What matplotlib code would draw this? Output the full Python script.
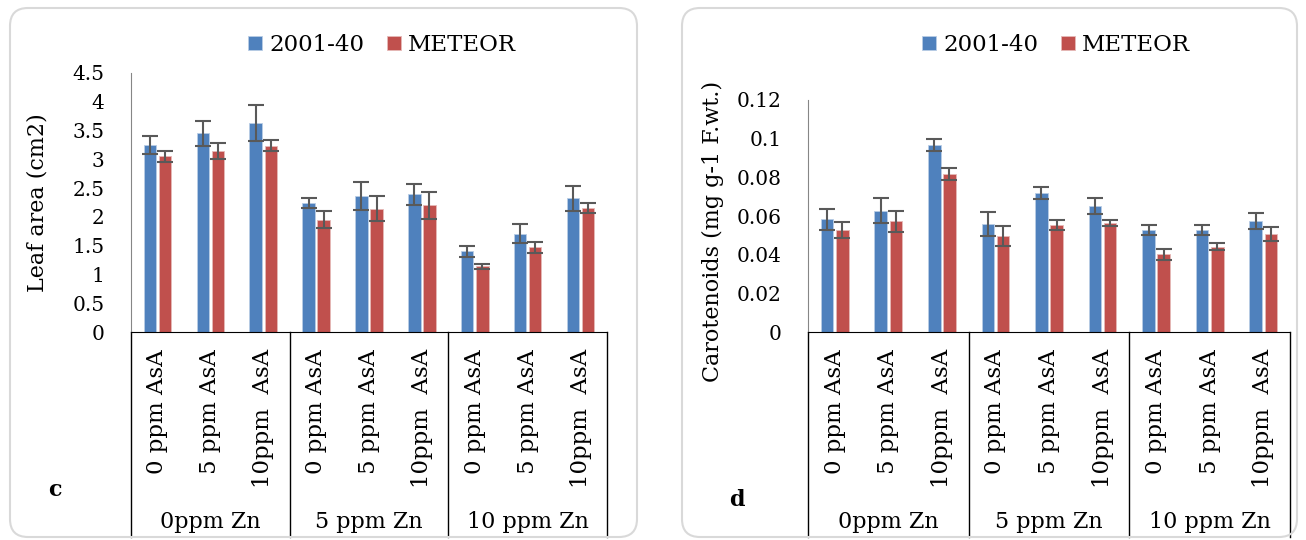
import numpy as np
import matplotlib
matplotlib.use('Agg')
import matplotlib.pyplot as plt
from matplotlib.patches import FancyBboxPatch
from matplotlib.transforms import IdentityTransform, blended_transform_factory

# data
groups = ['0ppm Zn', '5 ppm Zn', '10 ppm Zn']
asa_labels = ['0 ppm AsA', '5 ppm AsA', '10ppm  AsA'] * 3
series_names = ['2001-40', 'METEOR']

leaf_2001 = [3.25, 3.45, 3.63, 2.24, 2.36, 2.39, 1.40, 1.71, 2.32]
leaf_2001_err = [0.16, 0.22, 0.32, 0.08, 0.24, 0.19, 0.10, 0.17, 0.22]
leaf_meteor = [3.05, 3.15, 3.24, 1.95, 2.14, 2.20, 1.14, 1.47, 2.16]
leaf_meteor_err = [0.10, 0.14, 0.10, 0.15, 0.22, 0.23, 0.05, 0.09, 0.09]

car_2001 = [0.0582, 0.0627, 0.0967, 0.0558, 0.0720, 0.0651, 0.0528, 0.0528, 0.0575]
car_2001_err = [0.0054, 0.0064, 0.0033, 0.0062, 0.0030, 0.0040, 0.0028, 0.0028, 0.0040]
car_meteor = [0.0528, 0.0572, 0.0817, 0.0497, 0.0553, 0.0565, 0.0401, 0.0442, 0.0508]
car_meteor_err = [0.0040, 0.0055, 0.0030, 0.0050, 0.0026, 0.0015, 0.0026, 0.0020, 0.0036]

BLUE = '#4F81BD'
RED = '#C0504D'
W, H = 1306, 540

plt.rcParams['font.family'] = 'DejaVu Serif'

fig = plt.figure(figsize=(W / 100, H / 100), dpi=100)

# rounded panel frames (pixel coords)
for x0, w in [(10, 627), (682, 615)]:
    fig.add_artist(FancyBboxPatch((x0, 3), w, 529, boxstyle='round,pad=0,rounding_size=18',
                                  transform=IdentityTransform(), facecolor='none',
                                  edgecolor='#D9D9D9', linewidth=1.5))


def draw_panel(rect, s1, e1, s2, e2, ymax, step, ylabel, ylab_xy, letter, letter_xy, leg_x):
    ax = fig.add_axes(rect)
    x = np.arange(len(s1))
    ekw = dict(ecolor='#595959', elinewidth=1.5, capsize=5.5, capthick=1.5)
    ax.bar(x - 0.142, s1, 0.235, color=BLUE, edgecolor='#B9CDE5', linewidth=0.6,
           yerr=e1, error_kw=ekw, label=series_names[0])
    ax.bar(x + 0.142, s2, 0.235, color=RED, edgecolor='#E6B9B8', linewidth=0.6,
           yerr=e2, error_kw=ekw, label=series_names[1])
    ax.set_xlim(-0.5, len(s1) - 0.5)
    ax.set_ylim(0, ymax)
    ticks = np.round(np.arange(0, ymax + step / 2, step), 4)
    ax.set_yticks(ticks)
    ax.set_yticklabels([f'{t:g}' for t in ticks])
    ax.set_xticks([])
    ax.tick_params(axis='y', length=0, pad=19, labelsize=14.5)
    for s in ['top', 'right']:
        ax.spines[s].set_visible(False)
    ax.spines['left'].set_color('#868686')
    ax.spines['bottom'].set_color('black')

    tr = blended_transform_factory(ax.transData, fig.transFigure)
    for i, lab in enumerate(asa_labels):
        ax.text(i, 1 - 349 / H, lab, transform=tr, rotation=90, ha='center', va='top', fontsize=16.5)
    for xv in [-0.5, 2.5, 5.5, 8.5]:
        ax.plot([xv, xv], [1 - 332 / H, 1 - 537 / H], transform=tr, clip_on=False,
                color='black', lw=1)
    for g, lab in enumerate(groups):
        ax.text(3 * g + 1, 1 - 522 / H, lab, transform=tr, ha='center', va='center', fontsize=16)

    fig.text(ylab_xy[0] / W, 1 - ylab_xy[1] / H, ylabel, rotation=90, ha='center', va='center', fontsize=16)
    fig.text(letter_xy[0] / W, 1 - letter_xy[1] / H, letter, ha='center', va='center',
             fontsize=16, fontweight='bold')
    ax.legend(loc='center', bbox_to_anchor=(leg_x / W, 1 - 45 / H), bbox_transform=fig.transFigure,
              ncol=2, frameon=False, fontsize=16.5, handlelength=0.6, handleheight=0.6,
              handletextpad=0.3, columnspacing=1.0)
    return ax


draw_panel([131 / W, 1 - 332 / H, 476 / W, 259 / H], leaf_2001, leaf_2001_err, leaf_meteor, leaf_meteor_err,
           4.5, 0.5, 'Leaf area (cm2)', (38, 203), 'c', (55, 490), 382)
draw_panel([808 / W, 1 - 332 / H, 482 / W, 232 / H], car_2001, car_2001_err, car_meteor, car_meteor_err,
           0.12, 0.02, 'Carotenoids (mg g-1 F.wt.)', (713, 231), 'd', (737, 500), 1056)

fig.savefig('out.png', dpi=100)
